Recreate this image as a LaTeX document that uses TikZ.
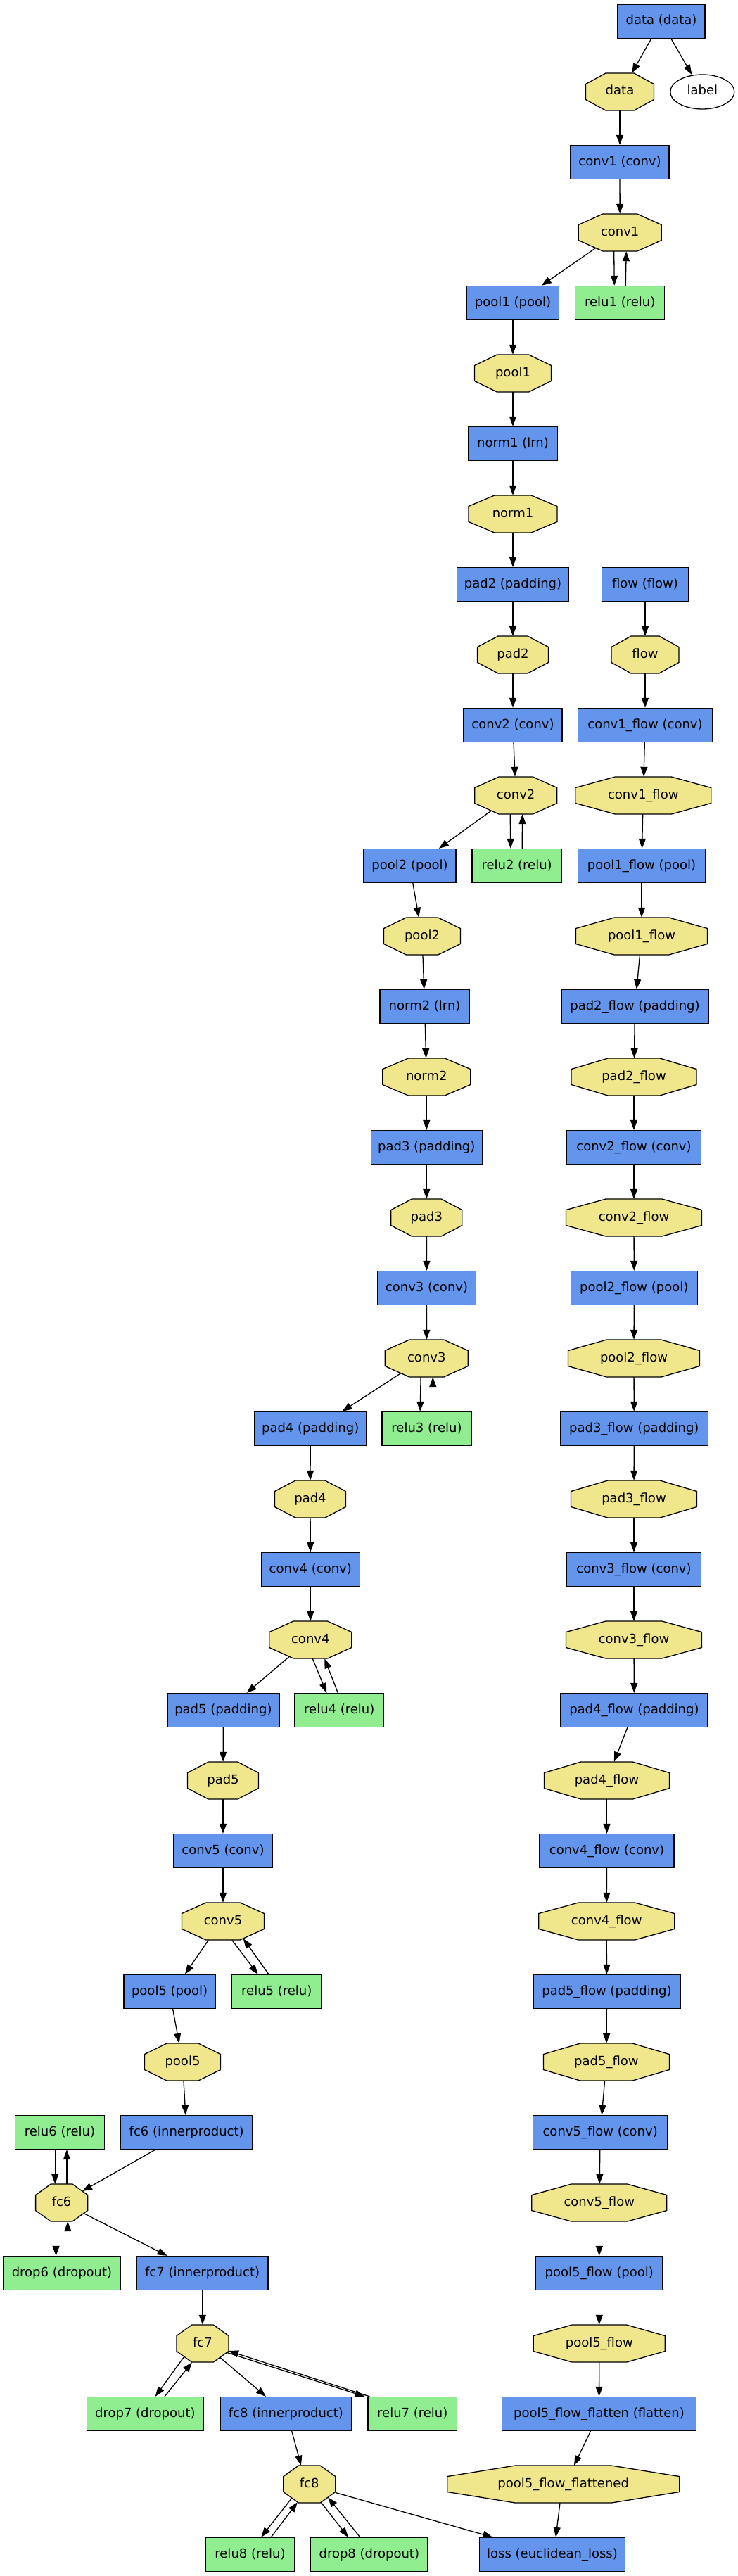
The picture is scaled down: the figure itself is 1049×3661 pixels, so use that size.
\documentclass[tikz,border=0pt]{standalone}
\usepackage{fontspec}
\setmainfont{DejaVu Sans}
\usetikzlibrary{arrows.meta,shapes.geometric,backgrounds}
\definecolor{layerblue}{HTML}{6495ED}
\definecolor{relugreen}{HTML}{90EE90}
\definecolor{blobkhaki}{HTML}{F0E68C}

\begin{document}
\begin{tikzpicture}[x=1pt, y=-1pt,
    txt/.style={inner sep=0pt, text height=13pt, text depth=4pt, font=\fontsize{18}{20}\selectfont},
    layer/.style={txt, draw, line width=1.3pt, fill=layerblue, minimum height=48pt},
    neuron/.style={layer, fill=relugreen},
    blob/.style={txt, minimum height=53pt},
    octo/.style={draw, line width=1.3pt, fill=blobkhaki},
    edge/.style={line width=1.3pt, -{Triangle[length=14pt,width=10pt]}}]
  \useasboundingbox (0,0) rectangle (1049,3661);
  \begin{pgfonlayer}{background}
    \fill[white] (0,0) rectangle (1049,3661);
  \end{pgfonlayer}

  % layers: name/x/row/width/text
  \foreach \n/\x/\r/\w/\txt in {
      Ldata/940/0/124/data (data), Lconv1/881/2/140/conv1 (conv),
      Lpool1/729/4/131/pool1 (pool), Lnorm1/729/6/127/norm1 (lrn),
      Lpad2/729/8/159/pad2 (padding), Lflow/917/8/123/flow (flow),
      Lconv2/729/10/140/conv2 (conv), Lconv1f/917/10/191/conv1\_flow (conv),
      Lpool2/582.5/12/131/pool2 (pool), Lpool1f/912/12/181/pool1\_flow (pool),
      Lnorm2/603.6/14/127/norm2 (lrn), Lpad2f/902.5/14/209/pad2\_flow (padding),
      Lpad3/606.3/16/158/pad3 (padding), Lconv2f/901/16/191/conv2\_flow (conv),
      Lconv3/606.5/18/140/conv3 (conv), Lpool2f/901.3/18/180/pool2\_flow (pool),
      Lpad4/441.2/20/159/pad4 (padding), Lpad3f/901.3/20/210/pad3\_flow (padding),
      Lconv4/441.3/22/140/conv4 (conv), Lconv3f/901/22/191/conv3\_flow (conv),
      Lpad5/317.4/24/159/pad5 (padding), Lpad4f/901.4/24/209/pad4\_flow (padding),
      Lconv5/317/26/140/conv5 (conv), Lconv4f/862.5/26/191/conv4\_flow (conv),
      Lpool5/241.1/28/130/pool5 (pool), Lpad5f/862.5/28/209/pad5\_flow (padding),
      Lfc6/265.2/30/187/fc6 (innerproduct), Lconv5f/853.2/30/191/conv5\_flow (conv),
      Lfc7/287.6/32/187/fc7 (innerproduct), Lpool5f/851.8/32/180/pool5\_flow (pool),
      Lfc8/406.4/34/187/fc8 (innerproduct), Lflat/851.5/34/276/pool5\_flow\_flatten (flatten),
      Lloss/785/36/207/loss (euclidean\_loss)}
    \node[layer, minimum width=\w] (\n) at (\x,{30.5+100*\r}) {\txt};

  % in-place layers
  \foreach \n/\x/\r/\w/\txt in {
      Lrelu1/881.2/4/127/relu1 (relu), Lrelu2/734.6/12/127/relu2 (relu),
      Lrelu3/606.5/20/127/relu3 (relu), Lrelu4/482.3/24/127/relu4 (relu),
      Lrelu5/393.3/28/127/relu5 (relu), Lrelu6/85/30/127/relu6 (relu),
      Ldrop6/88/32/166.5/drop6 (dropout), Ldrop7/206.4/34/166.5/drop7 (dropout),
      Lrelu7/586.3/34/126.4/relu7 (relu), Lrelu8/355.5/36/126.4/relu8 (relu),
      Ldrop8/524.8/36/166.5/drop8 (dropout)}
    \node[neuron, minimum width=\w] (\n) at (\x,{30.5+100*\r}) {\txt};

  % blobs, octagon drawn behind the text
  \foreach \n/\x/\r/\w/\txt in {
      Bdata/881/1/97/data, Bconv1/881.2/3/118/conv1, Bpool1/729/5/109/pool1,
      Bnorm1/729/7/126/norm1, Bpad2/729/9/101/pad2, Bflow/917/9/96/flow,
      Bconv2/733.2/11/117/conv2, Bconv1f/914.3/11/193/conv1\_flow,
      Bpool2/600/13/109/pool2, Bpool1f/912/13/187/pool1\_flow,
      Bnorm2/606.3/15/125/norm2, Bpad2f/901/15/178/pad2\_flow,
      Bpad3/606.3/17/101/pad3, Bconv2f/901/17/193/conv2\_flow,
      Bconv3/606.3/19/118/conv3, Bpool2f/901/19/187/pool2\_flow,
      Bpad4/441/21/101/pad4, Bpad3f/901/21/179/pad3\_flow,
      Bconv4/441.3/23/117/conv4, Bconv3f/901/23/193/conv3\_flow,
      Bpad5/317/25/101/pad5, Bpad4f/862.5/25/178/pad4\_flow,
      Bconv5/317/27/117/conv5, Bconv4f/862.2/27/193/conv4\_flow,
      Bpool5/259.5/29/108/pool5, Bpad5f/861.9/29/179/pad5\_flow,
      Bfc6/87.6/31/74/fc6, Bconv5f/851.8/31/192/conv5\_flow,
      Bfc7/288/33/74/fc7, Bpool5f/851.8/33/187/pool5\_flow,
      Bfc8/439.8/35/74/fc8, Bflat/800.7/35/330/pool5\_flow\_flattened} {
    \node[blob, minimum width=\w] (\n) at (\x,{30.5+100*\r}) {\txt};
    \begin{pgfonlayer}{background}
      \draw[octo] ({\x-0.207*\w},{100*\r+4}) -- ++({0.414*\w},0) -- ++({0.293*\w},15.5)
        -- ++(0,22) -- ++({-0.293*\w},15.5) -- ++({-0.414*\w},0) -- ++({-0.293*\w},-15.5)
        -- ++(0,-22) -- cycle;
    \end{pgfonlayer}
  }
  \node[txt, ellipse, draw, line width=1.3pt, fill=white, minimum width=91pt,
        minimum height=49pt] (label) at (998.3,130.5) {label};

  % straight edges
  \foreach \na/\nb in {Bdata/Lconv1, Lconv1/Bconv1, Lpool1/Bpool1, Bpool1/Lnorm1,
      Lnorm1/Bnorm1, Bnorm1/Lpad2, Lpad2/Bpad2, Bpad2/Lconv2, Lconv2/Bconv2,
      Lpool2/Bpool2, Bpool2/Lnorm2, Lnorm2/Bnorm2, Bnorm2/Lpad3, Lpad3/Bpad3,
      Bpad3/Lconv3, Lconv3/Bconv3, Lpad4/Bpad4, Bpad4/Lconv4, Lconv4/Bconv4,
      Lpad5/Bpad5, Bpad5/Lconv5, Lconv5/Bconv5, Lpool5/Bpool5, Bpool5/Lfc6,
      Lfc7/Bfc7,
      Lflow/Bflow, Bflow/Lconv1f, Lconv1f/Bconv1f, Bconv1f/Lpool1f, Lpool1f/Bpool1f,
      Bpool1f/Lpad2f, Lpad2f/Bpad2f, Bpad2f/Lconv2f, Lconv2f/Bconv2f, Bconv2f/Lpool2f,
      Lpool2f/Bpool2f, Bpool2f/Lpad3f, Lpad3f/Bpad3f, Bpad3f/Lconv3f, Lconv3f/Bconv3f,
      Bconv3f/Lpad4f, Lpad4f/Bpad4f, Bpad4f/Lconv4f, Lconv4f/Bconv4f, Bconv4f/Lpad5f,
      Lpad5f/Bpad5f, Bpad5f/Lconv5f, Lconv5f/Bconv5f, Bconv5f/Lpool5f, Lpool5f/Bpool5f,
      Bpool5f/Lflat}
    \draw[edge] (\na) -- (\nb);

  % edges with shifted ends
  \foreach \na/\ax/\ay/\nb/\bx/\by in {
      Ldata.south/-14.3/0/Bdata.north/17/0, Ldata.south/14/0/label.center/-15/-24.5,
      Bconv1.center/-34.5/22/Lpool1.north/40.8/0,
      Bconv1.south/-8.5/0/Lrelu1.north/-8/0, Lrelu1.north/8/0/Bconv1.south/9/0,
      Bconv2.center/-34.9/21.7/Lpool2.north/41.3/0,
      Bconv2.south/-8/0/Lrelu2.north/-8.8/0, Lrelu2.north/7.6/0/Bconv2.south/9.4/0,
      Bconv3.center/-36.3/21/Lpad4.north/45.1/0,
      Bconv3.south/-8.2/0/Lrelu3.north/-9.3/0, Lrelu3.north/8.8/0/Bconv3.south/9/0,
      Bconv4.center/-30.3/24/Lpad5.north/33.3/0,
      Bconv4.south/3/0/Lrelu4.north/-18/0, Lrelu4.north/-2/0/Bconv4.south/20/0,
      Bconv5.south/-20.7/0/Lpool5.north/21.8/0,
      Bconv5.south/12.8/0/Lrelu5.north/-26.7/0, Lrelu5.north/-11.3/0/Bconv5.south/28.8/-2,
      Lfc6.south/-44.5/0/Bfc6.center/29.5/-16.5,
      Lrelu6.south/-6.7/0/Bfc6.north/-9.3/0, Bfc6.north/7.4/0/Lrelu6.south/10/0,
      Bfc6.south/-8/0/Ldrop6.north/-8.4/0, Ldrop6.north/8.3/0/Bfc6.south/8.7/0,
      Bfc6.center/31.4/15/Lfc7.north/-50/0,
      Bfc7.south/-27/-7/Ldrop7.north/14.3/0, Ldrop7.north/27.6/0/Bfc7.south/-15/0,
      Bfc7.center/25/20/Lfc8.north/-28.4/0,
      Bfc7.center/35/13/Lrelu7.north west/-4/0, Lrelu7.north west/3/0/Bfc7.center/37/10.5,
      Lfc8.south/8.3/0/Bfc8.north/-11.8/0,
      Bfc8.south/-25.1/-7/Lrelu8.north/15.7/0, Lrelu8.north/29.8/0/Bfc8.south/-17/-1,
      Bfc8.south/16.4/-1/Ldrop8.north/-29.8/0, Ldrop8.north/-13/0/Bfc8.south/26.4/-8,
      Bfc8.center/37.2/12/Lloss.north/-84.7/0,
      Lflat.south/-12/0/Bflat.north/15.3/0, Bflat.south/-4.7/0/Lloss.north/5/0}
    \draw[edge] ([shift={(\ax,\ay)}]\na) -- ([shift={(\bx,\by)}]\nb);
\end{tikzpicture}
\end{document}
